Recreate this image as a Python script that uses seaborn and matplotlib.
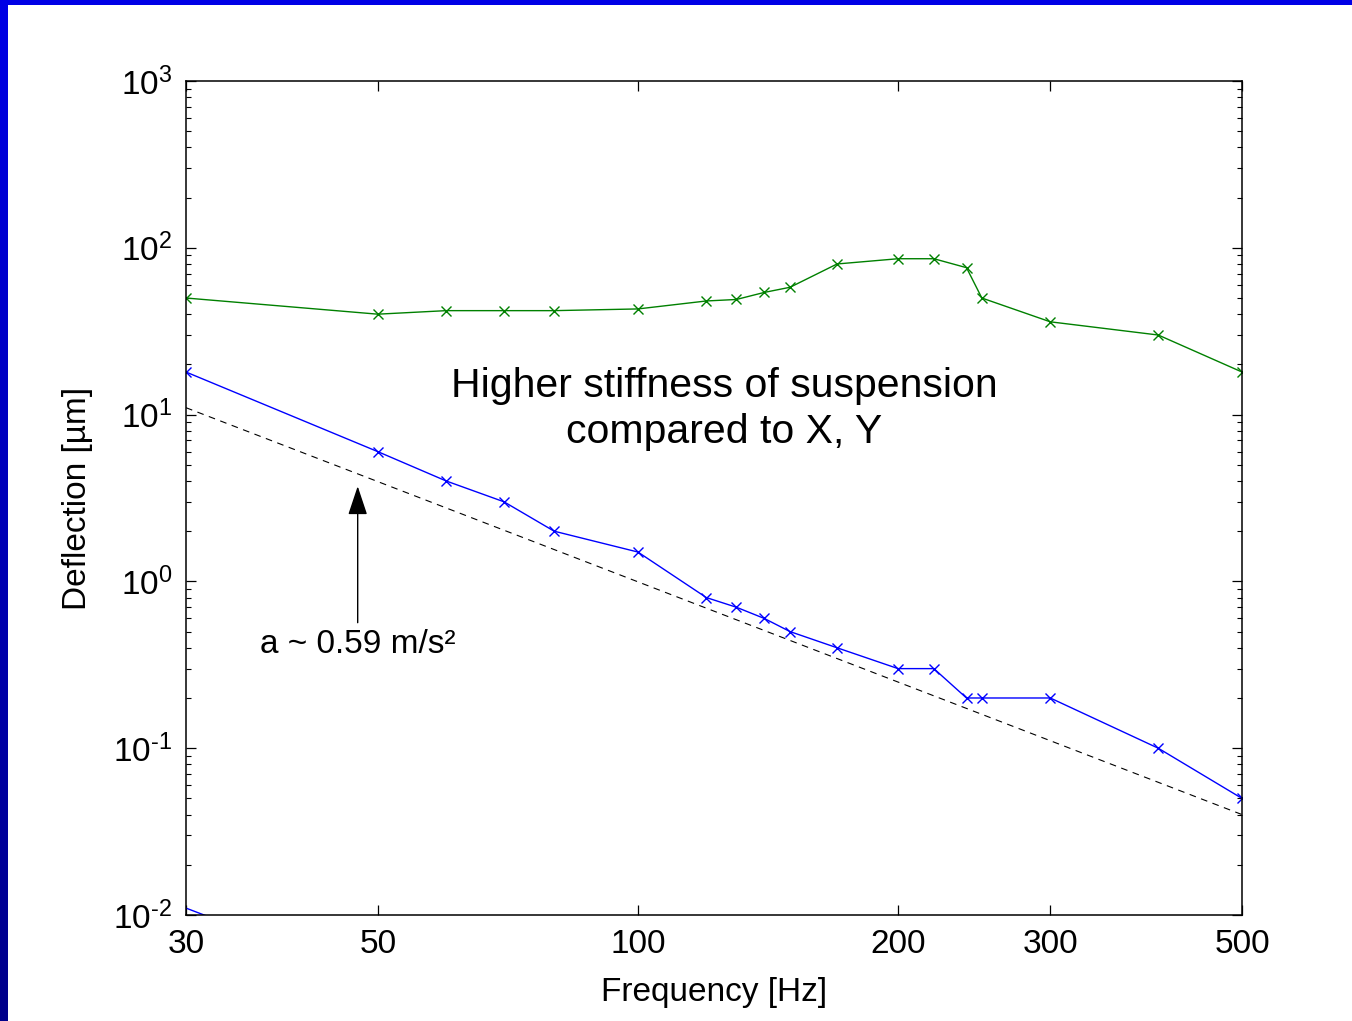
import numpy as np
import matplotlib
matplotlib.use("Agg")
import matplotlib.pyplot as plt
import seaborn as sns
from matplotlib.ticker import FixedLocator, NullLocator, LogLocator, FuncFormatter, NullFormatter
from matplotlib.patches import Rectangle
from matplotlib.colors import LinearSegmentedColormap

# ---------------- data ----------------
freq = [30, 50, 60, 70, 80, 100, 120, 130, 140, 150, 170, 200, 220, 240, 250, 300, 400, 500]
defl_green = [50, 40, 42, 42, 42, 43, 48, 49, 54, 58, 80, 86, 86, 76, 50, 36, 30, 18]
defl_blue = [18, 6, 4, 3, 2, 1.5, 0.8, 0.7, 0.6, 0.5, 0.4, 0.3, 0.3, 0.2, 0.2, 0.2, 0.1, 0.05]
ref_freq = [30, 500]
ref_defl = [11.0, 0.040]
low_freq = [30, 50]
low_defl = [0.011, 0.004]
xticks = [30, 50, 100, 200, 300, 500]
xtick_labels = ["30", "50", "100", "200", "300", "500"]

# ---------------- style ----------------
sns.set_theme(style="ticks")
plt.rcParams["font.family"] = ["Liberation Sans", "DejaVu Sans"]
plt.rcParams["mathtext.fontset"] = "custom"
plt.rcParams["mathtext.rm"] = "Liberation Sans"
plt.rcParams["mathtext.it"] = "Liberation Sans:italic"
plt.rcParams["mathtext.bf"] = "Liberation Sans:bold"

W, H = 1352, 1021
fig = plt.figure(figsize=(W / 100, H / 100), dpi=100)
fig.patch.set_facecolor("white")

# blue frame (top bar + left gradient bar)
fig.patches.append(Rectangle((0, 1 - 5 / H), 1, 5 / H, transform=fig.transFigure,
                             facecolor="#0000e6", edgecolor="none", zorder=0))
gax = fig.add_axes([0, 0, 8 / W, 1])
grad = np.linspace(0, 1, 256).reshape(-1, 1)
cmap = LinearSegmentedColormap.from_list("bl", ["#0000e6", "#00008a"])
gax.imshow(grad, aspect="auto", cmap=cmap, extent=[0, 1, 1, 0])
gax.set_axis_off()

ax = fig.add_axes([186 / W, 1 - 915 / H, 1056 / W, 834 / H])

sns.lineplot(x=freq, y=defl_green, color="#008000", marker="x", markersize=7,
             markeredgewidth=1.0, markeredgecolor="#008000", linewidth=1.0,
             estimator=None, sort=False, ax=ax)
sns.lineplot(x=freq, y=defl_blue, color="#0000ff", marker="x", markersize=7,
             markeredgewidth=1.0, markeredgecolor="#0000ff", linewidth=1.0,
             estimator=None, sort=False, ax=ax)
sns.lineplot(x=ref_freq, y=ref_defl, color="black", linestyle=(0, (6, 5)), linewidth=0.8,
             estimator=None, sort=False, ax=ax)
sns.lineplot(x=low_freq, y=low_defl, color="#0000ff", linewidth=1.0,
             estimator=None, sort=False, ax=ax)

ax.set_xscale("log")
ax.set_yscale("log")
ax.set_xlim(30, 500)
ax.set_ylim(1e-2, 1e3)

ax.xaxis.set_major_locator(FixedLocator(xticks))
ax.xaxis.set_minor_locator(NullLocator())
ax.set_xticks(xticks, labels=xtick_labels)
ax.xaxis.set_minor_formatter(NullFormatter())


def ylab(v, p):
    e = int(round(np.log10(v)))
    s = str(e).replace("-", "\u2010")
    return r"$\mathregular{10^{%s}}$" % s


ax.yaxis.set_major_locator(LogLocator(base=10, numticks=10))
ax.yaxis.set_minor_locator(LogLocator(base=10, subs=np.arange(2, 10), numticks=20))
ax.yaxis.set_major_formatter(FuncFormatter(ylab))
ax.yaxis.set_minor_formatter(NullFormatter())

ax.tick_params(which="both", direction="in", top=True, right=True, colors="black",
               labelsize=24, pad=10)
ax.tick_params(which="major", length=7.5, width=0.9)
ax.tick_params(which="minor", length=3.8, width=0.8)
for s in ax.spines.values():
    s.set_linewidth(1.1)
    s.set_color("black")

ax.set_xlabel("Frequency [Hz]", fontsize=24, color="black")
ax.set_ylabel("Deflection [µm]", fontsize=24, color="black")
ax.xaxis.set_label_coords(0.5, -0.074)
ax.yaxis.set_label_coords(-0.088, 0.5)

ax.text(0.51, 0.607, "Higher stiffness of suspension\ncompared to X, Y", transform=ax.transAxes,
        ha="center", va="center", multialignment="center", fontsize=29.5, color="black",
        linespacing=1.25)

ax.annotate("a ~ 0.59 m/s²", xy=(47.4, 3.72), xytext=(47.4, 0.42),
            ha="center", va="center", fontsize=24, color="black",
            arrowprops=dict(arrowstyle="-|>,head_length=0.9,head_width=0.3", mutation_scale=20,
                            color="black", lw=1.0, shrinkA=2, shrinkB=0))

fig.savefig("out.png", dpi=100)
